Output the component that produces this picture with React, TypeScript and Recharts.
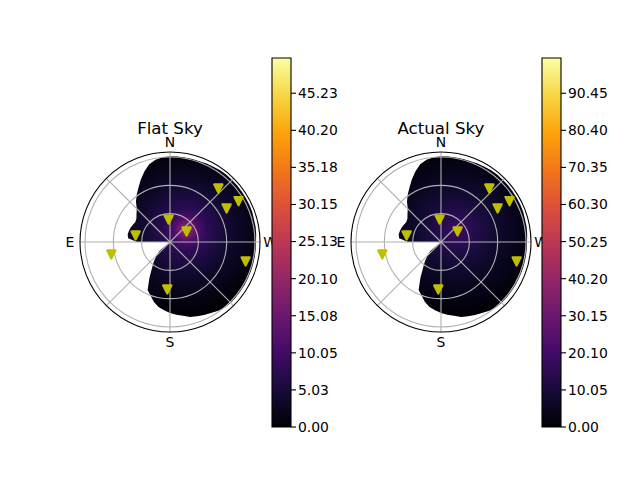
import React from 'react'
import {
  RadarChart, Radar, PolarGrid, PolarAngleAxis, PolarRadiusAxis,
  ScatterChart, Scatter, XAxis, YAxis,
  BarChart, Bar,
} from 'recharts'

const FONT = '"DejaVu Sans", sans-serif'

// azimuth of the sky outline, degrees clockwise from N on screen
const outlineAz = [
  0, 5, 10, 15, 20, 25, 30, 35, 40, 45, 50, 55, 60, 65, 70, 75, 80, 85,
  90, 95, 100, 105, 110, 115, 120, 125, 130, 135, 140, 145, 150, 155, 160, 165, 170, 175,
  180, 185, 190, 195, 200, 205, 210, 215, 220, 225, 230, 235, 240, 245, 250, 255, 260, 265,
  270, 275, 280, 285, 290, 295, 300, 305, 310, 315, 320, 325, 330, 335, 340, 345, 350, 355,
]
const outlineR = [
  90.8, 90.9, 90.9, 91.1, 91.1, 91.6, 92.1, 92.7, 92.9, 92.9, 92.9, 92.9, 92.9, 92.9, 92.7, 92.1, 92.1, 91.6,
  91.1, 91.1, 91.1, 91.1, 91.1, 91.1, 91.1, 91.1, 91.1, 90.9, 90.5, 89, 86.8, 85.2, 83.7, 82.1, 79.4, 77.3,
  75.2, 72.5, 69.9, 65.7, 60.4, 56.1, 43.4, 32.8, 26.5, 20.1, 14.8, 0, 0, 0, 0, 0, 0, 0,
  34.9, 44.5, 45.5, 45.1, 44.5, 43.4, 42.4, 43.4, 46.3, 49.8, 56.1, 61.4, 66.7, 73.1, 79.4, 85.2, 88.4, 90,
]

// yellow triangles
const markerAz = [42, 59.1, 59.2, 356.5, 57.2, 281, 258.2, 104.3, 183.3]
const markerR = [76.5, 84.6, 69.8, 24, 20.9, 37.1, 63.5, 82.6, 50.2]

const radialTicks = [30, 60, 90]
const spokeAngles = [0, 45, 90, 135, 180, 225, 270, 315]
const compass: Record<number, string> = { 0: 'N', 90: 'W', 180: 'S', 270: 'E' }
const R_MAX = 95.3

const flatTicks = [0, 5.03, 10.05, 15.08, 20.1, 25.13, 30.15, 35.18, 40.2, 45.23]
const actualTicks = [0, 10.05, 20.1, 30.15, 40.2, 50.25, 60.3, 70.35, 80.4, 90.45]

const inferno = [
  '#000004', '#160b39', '#420a68', '#6a176e', '#932667', '#bc3754',
  '#dd513a', '#f37819', '#fca50a', '#f6d746', '#fcffa4',
]

const flatGlow = [
  [0, '#a32c62'], [6, '#7d1e6c'], [14, '#4f0d6a'], [25, '#2b0b55'], [40, '#1a0b3e'], [60, '#0c0726'], [82, '#040312'], [100, '#000004'],
]
const actualGlow = [
  [0, '#3f0a62'], [12, '#2f0b58'], [26, '#1e0c45'], [46, '#100a2e'], [72, '#06041a'], [100, '#000004'],
]

const outlineData = outlineAz.map((az, i) => ({ az, r: outlineR[i] }))
const markerData = markerAz.map((az, i) => ({
  x: markerR[i] * Math.sin((az * Math.PI) / 180),
  y: markerR[i] * Math.cos((az * Math.PI) / 180),
}))

const CompassTick = ({ x, y, payload }: any) => {
  const label = compass[payload.value]
  if (!label) return null
  return (
    <text x={x} y={y} textAnchor="middle" dominantBaseline="central" fontSize={13.9} fontFamily={FONT} fill="#000">
      {label}
    </text>
  )
}

const Triangle = ({ cx, cy }: any) => (
  <path
    d={`M${cx - 4.1},${cy - 3.9} L${cx + 4.1},${cy - 3.9} L${cx},${cy + 4.3} Z`}
    fill="#bfbf00"
    stroke="#bfbf00"
    strokeWidth={2.2}
    strokeLinejoin="round"
  />
)

const overlay = { position: 'absolute', top: 132 } as const

function SkyPanel({ title, cx, glow, id }: { title: string; cx: number; glow: (string | number)[][]; id: string }) {
  return (
    <>
      <div style={{ position: 'absolute', left: cx - 100, width: 200, top: 119, textAlign: 'center', fontFamily: FONT, fontSize: 16.67, lineHeight: '20px' }}>
        {title}
      </div>
      {/* heat blob underneath, grid chart on top of it, then the markers */}
      <div style={{ ...overlay, left: cx - 110 }}>
        <RadarChart width={220} height={220} data={outlineData} cx={110} cy={110} outerRadius={90} margin={{ top: 0, right: 0, bottom: 0, left: 0 }}>
          <defs>
            <radialGradient id={id} gradientUnits="userSpaceOnUse" cx={126} cy={98} r={85}>
              {glow.map(([o, c]) => <stop key={o} offset={`${o}%`} stopColor={c as string} />)}
            </radialGradient>
          </defs>
          <PolarRadiusAxis domain={[0, R_MAX]} tick={false} axisLine={false} tickLine={false} />
          <PolarAngleAxis dataKey="az" tick={false} tickLine={false} axisLine={false} />
          <Radar dataKey="r" fill={`url(#${id})`} fillOpacity={1} stroke="none" dot={false} isAnimationActive={false} />
        </RadarChart>
      </div>
      <div style={{ ...overlay, left: cx - 110 }}>
        <RadarChart width={220} height={220} data={outlineData} cx={110} cy={110} outerRadius={90} margin={{ top: 0, right: 0, bottom: 0, left: 0 }}>
          <PolarRadiusAxis domain={[0, R_MAX]} tick={false} axisLine={false} tickLine={false} />
          <PolarGrid gridType="circle" polarAngles={spokeAngles} polarRadius={radialTicks.map((t) => (t / R_MAX) * 90)} stroke="#b0b0b0" strokeWidth={1.1} />
          <PolarAngleAxis dataKey="az" tick={<CompassTick />} tickLine={false} tickSize={10} axisLineType="circle" axisLine={{ stroke: '#000', strokeWidth: 1.1 }} />
        </RadarChart>
      </div>
      <div style={{ position: 'absolute', left: cx - 90, top: 152 }}>
        <ScatterChart width={180} height={180} margin={{ top: 0, right: 0, bottom: 0, left: 0 }}>
          <XAxis type="number" dataKey="x" domain={[-R_MAX, R_MAX]} hide />
          <YAxis type="number" dataKey="y" domain={[-R_MAX, R_MAX]} hide />
          <Scatter data={markerData} shape={<Triangle />} isAnimationActive={false} />
        </ScatterChart>
      </div>
    </>
  )
}

function ColorBar({ left, max, ticks, id }: { left: number; max: number; ticks: number[]; id: string }) {
  return (
    <div style={{ position: 'absolute', left: left - 1, top: 48 }}>
      <BarChart width={90} height={389} data={[{ name: 'v', value: max }]} margin={{ top: 10, right: 0, bottom: 10, left: 1 }} barCategoryGap={0}>
        <defs>
          <linearGradient id={id} x1="0" y1="1" x2="0" y2="0">
            {inferno.map((c, i) => <stop key={c} offset={`${i * 10}%`} stopColor={c} />)}
          </linearGradient>
        </defs>
        <XAxis dataKey="name" hide />
        <YAxis
          orientation="right"
          width={70}
          type="number"
          domain={[0, max]}
          ticks={ticks}
          interval={0}
          axisLine={false}
          tickSize={5}
          tickMargin={2}
          tickLine={{ stroke: '#000', strokeWidth: 1.1 }}
          tickFormatter={(v: number) => v.toFixed(2)}
          tick={{ fill: '#000', fontSize: 13.9, fontFamily: FONT }}
        />
        <Bar dataKey="value" fill={`url(#${id})`} stroke="#000" strokeWidth={1.1} isAnimationActive={false} />
      </BarChart>
    </div>
  )
}

export default function App() {
  return (
    <div style={{ position: 'fixed', left: 0, top: 0, width: 640, height: 480, background: '#fff', overflow: 'hidden' }}>
      <SkyPanel title="Flat Sky" cx={170} glow={flatGlow} id="flatGlow" />
      <ColorBar left={272} max={50} ticks={flatTicks} id="barFlat" />
      <SkyPanel title="Actual Sky" cx={441} glow={actualGlow} id="actualGlow" />
      <ColorBar left={542} max={100} ticks={actualTicks} id="barActual" />
    </div>
  )
}
